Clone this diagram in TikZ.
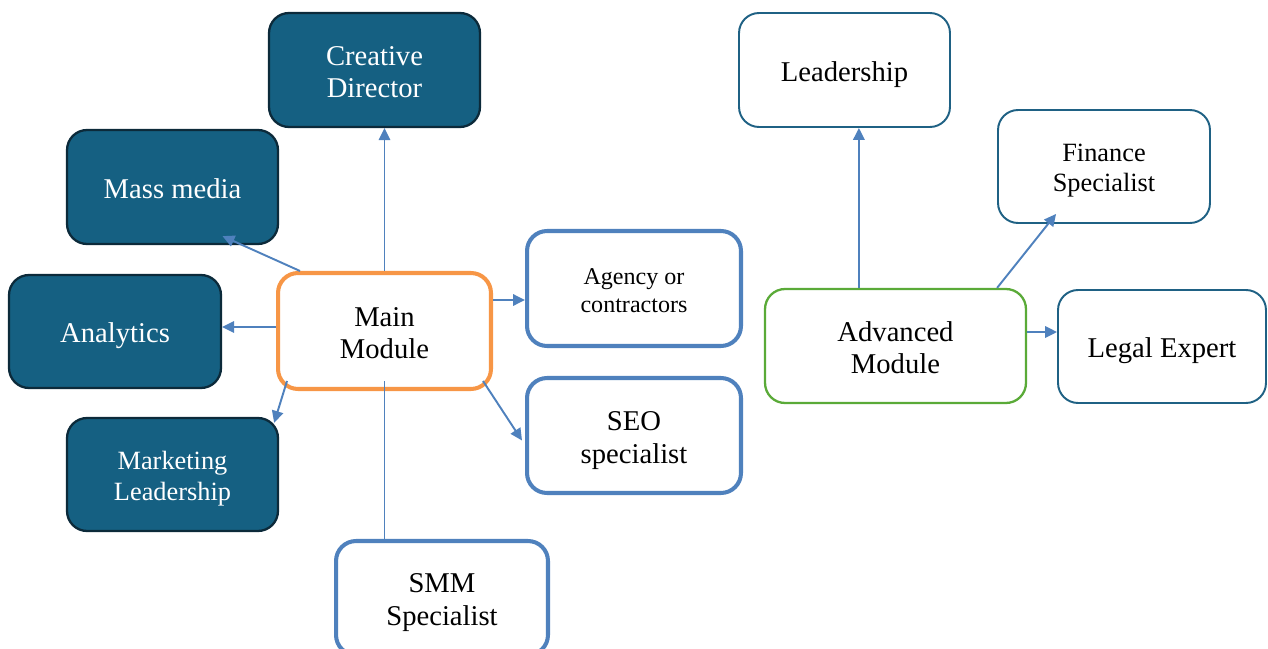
\documentclass[tikz,border=0pt]{standalone}
\usepackage{fontspec}
\setmainfont{Liberation Serif}
\usetikzlibrary{calc,arrows.meta}
\definecolor{tealfill}{HTML}{156082}
\definecolor{tealdark}{HTML}{0C2A3A}
\definecolor{tealline}{HTML}{1F6184}
\definecolor{orangeline}{HTML}{F79646}
\definecolor{blueline}{HTML}{4F81BD}
\definecolor{greenline}{HTML}{5AAA38}
\newcommand\tstart{\rule{0pt}{1.0em}}
\newcommand\tend{\rule[-0.19em]{0pt}{0.19em}}
\tikzset{
  basebox/.style={rounded corners=0.4cm, align=center, inner sep=0pt, font=\fontsize{16.3}{18.6}\selectfont},
  darkbox/.style={basebox, draw=tealdark, line width=1.3pt, fill=tealfill, text=white},
  lightbox/.style={basebox, draw=tealline, line width=1.1pt, fill=white, text=black},
  bluebox/.style={basebox, draw=blueline, line width=2.3pt, fill=white, text=black},
  mainbox/.style={basebox, draw=orangeline, line width=2.3pt, fill=white},
  advbox/.style={basebox, draw=greenline, line width=1.3pt, fill=white},
  conn/.style={draw=blueline, line width=1.1pt},
  arr/.style={conn, -{Triangle[length=6.8pt,width=6.5pt]}},
}
\begin{document}
\begin{tikzpicture}[x=0.02cm,y=-0.02cm]
\useasboundingbox (0,0) rectangle (1268,649);
% left cluster
\node[darkbox, minimum width=4.22cm, minimum height=2.28cm] (creative) at (374.5,70) {\tstart Creative\\Director\tend};
\node[darkbox, minimum width=4.22cm, minimum height=2.28cm] (mass) at (172.5,187) {\tstart Mass media\tend};
\node[darkbox, minimum width=4.24cm, minimum height=2.26cm] (analytics) at (115,331.5) {\tstart Analytics\tend};
\node[darkbox, minimum width=4.22cm, minimum height=2.26cm, font=\fontsize{15}{17.9}\selectfont] (marketing) at (172.5,474.5) {\tstart Marketing\\Leadership\tend};
\node[mainbox, minimum width=4.26cm, minimum height=2.32cm] (main) at (384.5,331) {\tstart Main\\Module\tend};
\node[bluebox, minimum width=4.28cm, minimum height=2.3cm, font=\fontsize{13.7}{15.9}\selectfont] (agency) at (634,288.5) {\tstart Agency or\\contractors\tend};
\node[bluebox, minimum width=4.28cm, minimum height=2.3cm] (seo) at (634,435.5) {\tstart SEO\\specialist\tend};
\node[bluebox, minimum width=4.24cm, minimum height=2.28cm] (smm) at (442,598) {\tstart SMM\\Specialist\tend};
% right cluster
\node[lightbox, minimum width=4.22cm, minimum height=2.28cm] (leader) at (844.5,70) {\tstart Leadership\tend};
\node[lightbox, minimum width=4.24cm, minimum height=2.26cm, font=\fontsize{15}{17.1}\selectfont] (finance) at (1104,166.5) {\tstart Finance\\Specialist\tend};
\node[advbox, minimum width=5.22cm, minimum height=2.28cm] (adv) at (895.5,346) {\tstart Advanced\\Module\tend};
\node[lightbox, minimum width=4.16cm, minimum height=2.26cm] (legal) at (1162,346.5) {\tstart Legal Expert\tend};
% connectors left
\draw[arr] (main.north) -- (main.north |- creative.south);
\draw[arr] ($(main.north west)+(24,0)$) -- ($(mass.south)+(50,-9)$);
\draw[arr] ($(main.west)+(0,-4)$) -- ($(analytics.east)+(0,-4.5)$);
\draw[arr] ($(main.south west)+(11,-10)$) -- ($(marketing.north east)+(-5,6)$);
\draw[arr] ($(main.east)+(0,-31)$) -- ($(agency.west)+(0,11.5)$);
\draw[arr] ($(main.south east)+(-10,-10)$) -- ($(seo.west)+(-3,5)$);
\draw[conn] ($(main.south)+(0,-10)$) -- (main.south |- smm.north);
% connectors right
\coordinate (advtop) at ($(adv.north west)+(95,0)$);
\draw[arr] (advtop) -- (advtop |- leader.south);
\draw[arr] ($(adv.north east)+(-30,0)$) -- ($(finance.south west)+(59,-10)$);
\draw[arr] ($(adv.east)+(0,-14)$) -- ($(legal.west)+(0,-14.5)$);
\end{tikzpicture}
\end{document}
